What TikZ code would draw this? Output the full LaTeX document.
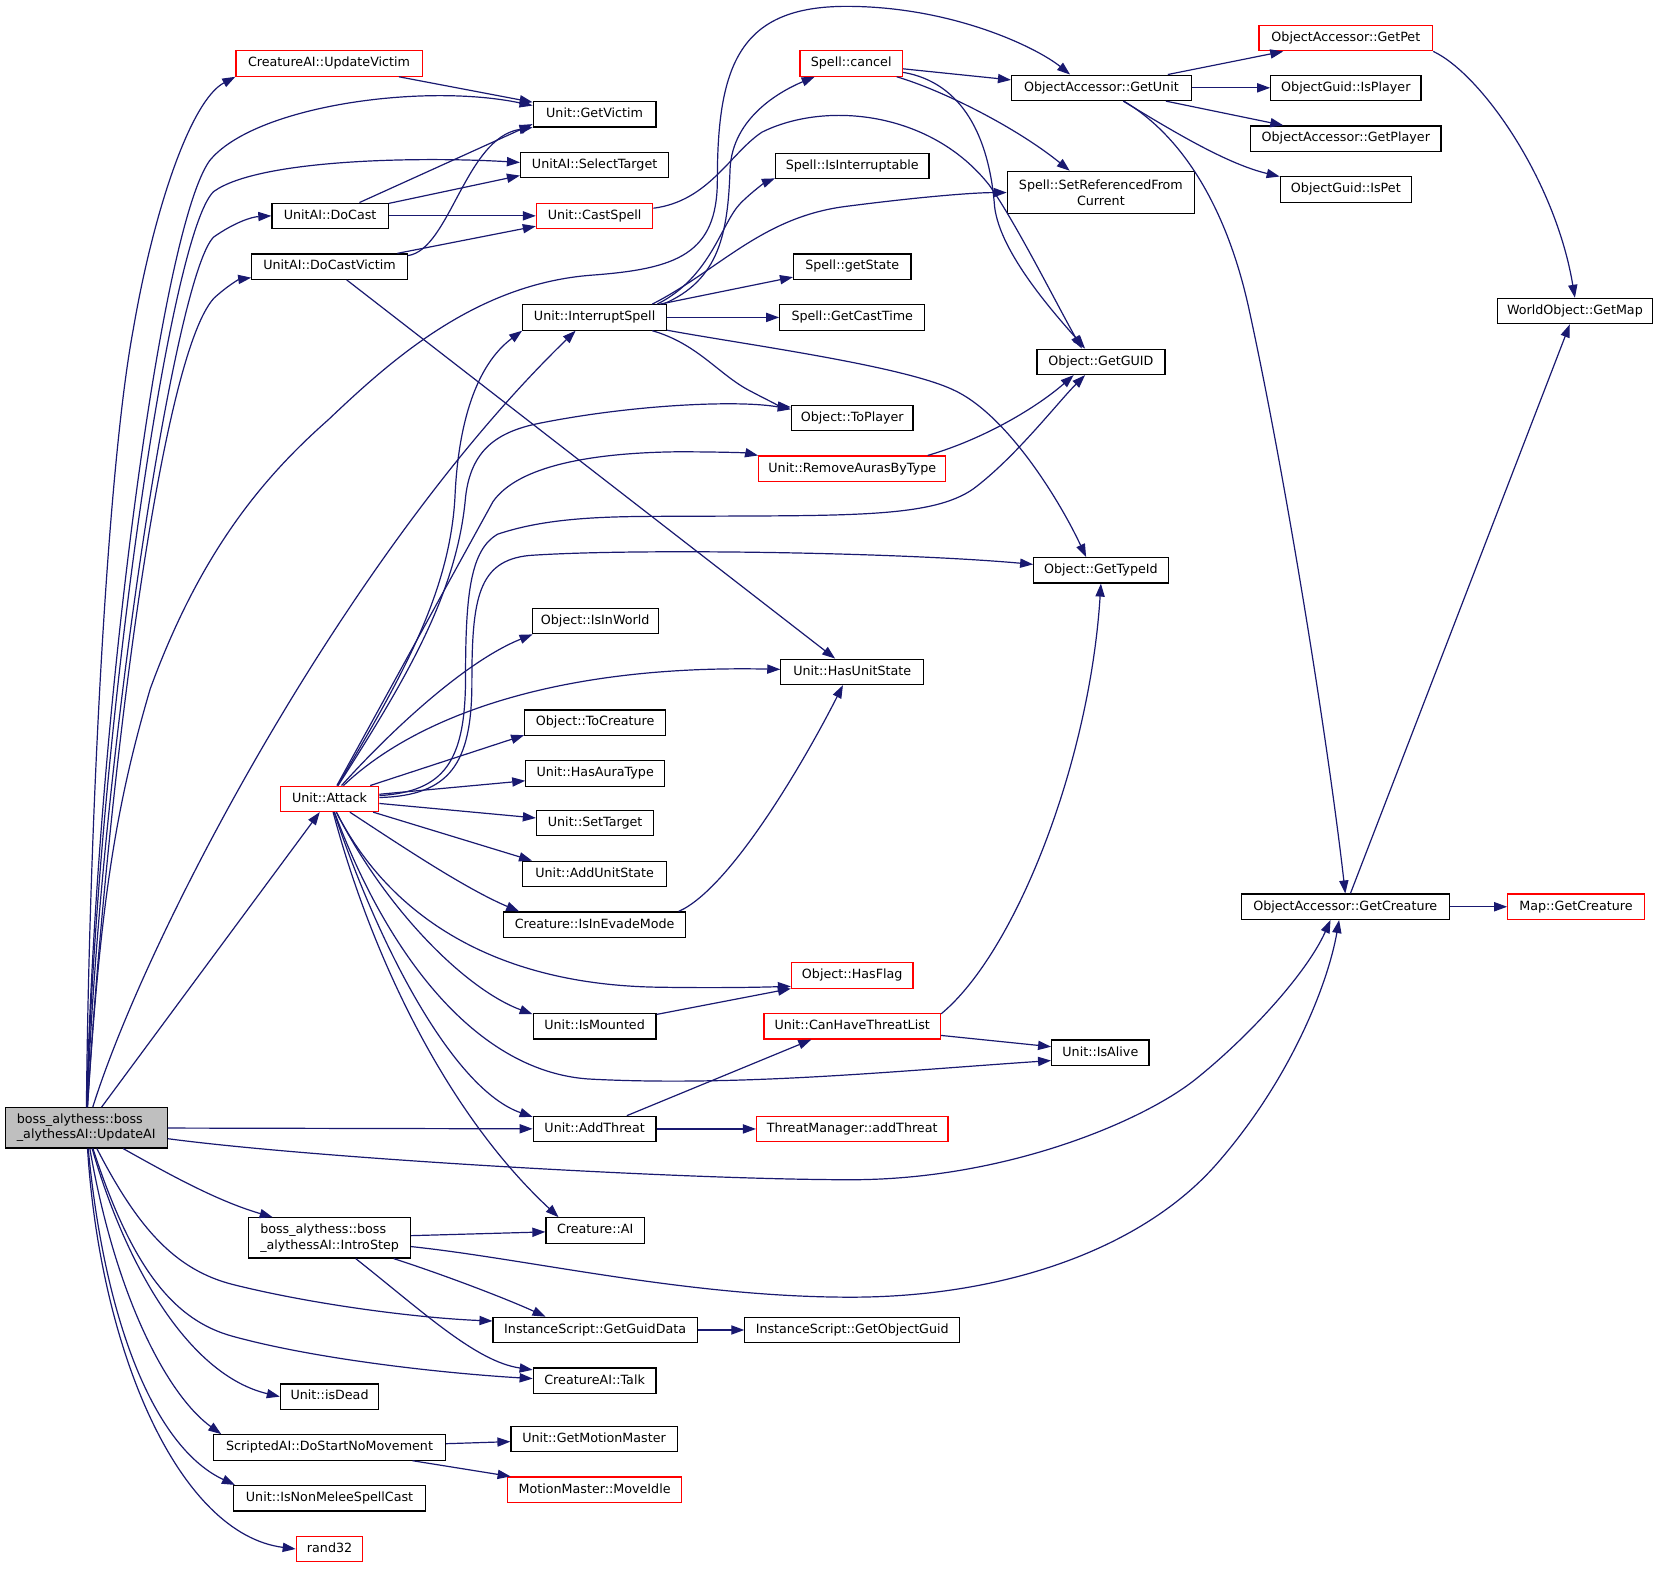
\documentclass[tikz,border=0pt]{standalone}
\usepackage{fontspec}
\setmainfont{DejaVu Sans}
\usepackage{xcolor}
\usetikzlibrary{arrows.meta}
\definecolor{callblue}{HTML}{191970}
\definecolor{rootgrey}{HTML}{BFBFBF}

\begin{document}
\begin{tikzpicture}[x=0.529pt,y=-0.529pt,
    >={Triangle[length=6.5pt,width=4.6pt]},
    fn/.style={draw=black,line width=0.6pt,fill=white,inner sep=0pt,
      minimum height=12.7pt,text height=4.6pt,text depth=1.3pt,
      font=\fontsize{6.35}{7.75}\selectfont},
    hot/.style={fn,draw=red},
    tall/.style={text height=,text depth=,minimum height=#1},
    root/.style={fn,fill=rootgrey,tall=20.1pt,align=left},
    call/.style={->,draw=callblue,line width=0.6pt}]

\path[use as bounding box,fill=white] (0,0) rectangle (1568,1483);

\node[root,minimum width=80.9pt] (updateAI) at (81.5,1066) {boss\_alythess::boss\\\_alythessAI::UpdateAI};
\node[hot,minimum width=93.1pt] (updVictim) at (311,60) {CreatureAI::UpdateVictim};
\node[fn,minimum width=61.4pt] (getVictim) at (562,108) {Unit::GetVictim};
\node[fn,minimum width=74.1pt] (selTarget) at (562,156) {UnitAI::SelectTarget};
\node[fn,minimum width=58.2pt] (doCast) at (312,204) {UnitAI::DoCast};
\node[hot,minimum width=58.2pt] (castSpell) at (562,204) {Unit::CastSpell};
\node[fn,minimum width=77.8pt] (doCastVictim) at (311.5,252) {UnitAI::DoCastVictim};
\node[fn,minimum width=71.9pt] (interrupt) at (562,300) {Unit::InterruptSpell};
\node[hot,minimum width=51.3pt] (cancel) at (804.5,60) {Spell::cancel};
\node[fn,minimum width=89.9pt] (getUnit) at (1041,83) {ObjectAccessor::GetUnit};
\node[hot,minimum width=86.8pt] (getPet) at (1272,36) {ObjectAccessor::GetPet};
\node[fn,minimum width=75.1pt] (isPlayer) at (1272,83) {ObjectGuid::IsPlayer};
\node[fn,minimum width=95.2pt] (getPlayer) at (1272,131) {ObjectAccessor::GetPlayer};
\node[fn,minimum width=65.6pt] (isPet) at (1272,179) {ObjectGuid::IsPet};
\node[fn,minimum width=76.7pt] (interruptable) at (805.5,157) {Spell::IsInterruptable};
\node[fn,tall=21.2pt,align=center,minimum width=93.6pt] (setRef) at (1040.5,182) {Spell::SetReferencedFrom\\Current};
\node[fn,minimum width=58.7pt] (getState) at (805.5,252) {Spell::getState};
\node[fn,minimum width=72.5pt] (castTime) at (805.5,300) {Spell::GetCastTime};
\node[fn,minimum width=77.8pt] (getMap) at (1488.5,294) {WorldObject::GetMap};
\node[fn,minimum width=64pt] (getGUID) at (1040.5,342) {Object::GetGUID};
\node[fn,minimum width=60.8pt] (toPlayer) at (805.5,395) {Object::ToPlayer};
\node[hot,minimum width=93.6pt] (removeAuras) at (805.5,443) {Unit::RemoveAurasByType};
\node[fn,minimum width=67.2pt] (getTypeId) at (1040.5,539) {Object::GetTypeId};
\node[fn,minimum width=63pt] (isInWorld) at (562.5,587) {Object::IsInWorld};
\node[fn,minimum width=71.4pt] (hasUnitState) at (805.5,635) {Unit::HasUnitState};
\node[fn,minimum width=70.4pt] (toCreature) at (562.5,683) {Object::ToCreature};
\node[fn,minimum width=69.3pt] (hasAuraType) at (562.5,731) {Unit::HasAuraType};
\node[hot,minimum width=49.2pt] (attack) at (311.5,755) {Unit::Attack};
\node[fn,minimum width=58.7pt] (setTarget) at (562.5,778) {Unit::SetTarget};
\node[fn,minimum width=71.9pt] (addUnitState) at (562,826) {Unit::AddUnitState};
\node[fn,minimum width=91pt] (evadeMode) at (562,874) {Creature::IsInEvadeMode};
\node[fn,minimum width=104.2pt] (getCreature) at (1271.5,857) {ObjectAccessor::GetCreature};
\node[hot,minimum width=68.2pt] (mapCreature) at (1489.5,857) {Map::GetCreature};
\node[hot,minimum width=60.8pt] (hasFlag) at (805.5,922) {Object::HasFlag};
\node[fn,minimum width=61.4pt] (isMounted) at (562,970) {Unit::IsMounted};
\node[hot,minimum width=88.3pt] (canThreat) at (805.5,970) {Unit::CanHaveThreatList};
\node[fn,minimum width=48.7pt] (isAlive) at (1040,995) {Unit::IsAlive};
\node[fn,minimum width=61.4pt] (addThreat) at (562,1067) {Unit::AddThreat};
\node[hot,minimum width=95.7pt] (tmAddThreat) at (805.5,1067) {ThreatManager::addThreat};
\node[fn,tall=20.1pt,align=left,minimum width=80.9pt] (introStep) at (311.5,1170) {boss\_alythess::boss\\\_alythessAI::IntroStep};
\node[fn,minimum width=49.2pt] (creatureAI) at (562.5,1163) {Creature::AI};
\node[fn,minimum width=102.1pt] (guidData) at (562.5,1257) {InstanceScript::GetGuidData};
\node[fn,minimum width=107.4pt] (objectGuid) at (805.5,1257) {InstanceScript::GetObjectGuid};
\node[fn,minimum width=61.4pt] (talk) at (562,1305) {CreatureAI::Talk};
\node[fn,minimum width=49.2pt] (isDead) at (311.5,1320) {Unit::isDead};
\node[fn,minimum width=115.9pt] (noMovement) at (311.5,1368) {ScriptedAI::DoStartNoMovement};
\node[fn,minimum width=83.1pt] (motionMaster) at (561.5,1360) {Unit::GetMotionMaster};
\node[hot,minimum width=86.8pt] (moveIdle) at (562,1408) {MotionMaster::MoveIdle};
\node[fn,minimum width=95.7pt] (nonMelee) at (311.5,1416) {Unit::IsNonMeleeSpellCast};
\node[hot,minimum width=33.3pt] (rand) at (311.5,1464) {rand32};

% straight calls
\foreach \a/\b in {updateAI/attack, updateAI/addThreat, updVictim/getVictim.169,
    doCast/getVictim.189, doCast/selTarget.188, doCast/castSpell,
    doCastVictim/castSpell.190, doCastVictim/hasUnitState, cancel/getUnit.175,
    getUnit/getPet.192, getUnit/isPlayer, getUnit/getPlayer.168,
    getCreature/getMap, getCreature/mapCreature, interrupt/getState.190,
    interrupt/castTime, attack/toCreature.190, attack/hasAuraType.186,
    attack/setTarget.175, attack/addUnitState.168, isMounted/hasFlag.192,
    canThreat/isAlive.173, addThreat/canThreat.198, addThreat/tmAddThreat,
    introStep/creatureAI, guidData/objectGuid, noMovement/motionMaster,
    noMovement/moveIdle.171}
  \draw[call] (\a) -- (\b);

% UpdateAI
\draw[call] (updateAI) .. controls (84,800) and (100,450) .. (126,311) .. controls (145,200) and (180,95) .. (updVictim.south west);
\draw[call] (updateAI) .. controls (90,700) and (150,220) .. (198,152) .. controls (240,100) and (400,78) .. (getVictim.172);
\draw[call] (updateAI) .. controls (92,700) and (160,220) .. (202,181) .. controls (245,150) and (400,148) .. (selTarget.178);
\draw[call] (updateAI) .. controls (95,720) and (165,260) .. (202,224) .. controls (222,210) and (238,205) .. (doCast.west);
\draw[call] (updateAI) .. controls (100,760) and (150,340) .. (202,282) .. controls (215,270) and (226,264) .. (doCastVictim.188);
\draw[call] (updateAI) .. controls (95,850) and (110,760) .. (142,651) .. controls (190,520) and (250,450) .. (310,397) .. controls (370,340) and (450,268) .. (560,260) .. controls (640,254) and (678,240) .. (678,170) .. controls (678,60) and (700,6) .. (800,6) .. controls (900,6) and (980,45) .. (getUnit.157);
\draw[call] (updateAI) .. controls (140,880) and (330,520) .. (interrupt.215);
\draw[call] (updateAI) .. controls (300,1095) and (650,1115) .. (804,1115) .. controls (950,1115) and (1080,1060) .. (1130,1020) .. controls (1180,980) and (1235,920) .. (getCreature.222);
\draw[call] (updateAI) .. controls (160,1110) and (205,1135) .. (introStep.160);
\draw[call] (updateAI) .. controls (130,1160) and (165,1200) .. (220,1214) .. controls (300,1234) and (400,1246) .. (guidData.175);
\draw[call] (updateAI) .. controls (125,1200) and (165,1248) .. (220,1263) .. controls (300,1285) and (420,1298) .. (talk.178);
\draw[call] (updateAI) .. controls (120,1200) and (180,1300) .. (isDead.west);
\draw[call] (updateAI) .. controls (110,1230) and (160,1320) .. (noMovement.173);
\draw[call] (updateAI) .. controls (100,1260) and (150,1370) .. (nonMelee.172);
\draw[call] (updateAI) .. controls (95,1280) and (170,1450) .. (rand.west);

\draw[call] (doCastVictim) .. controls (425,236) and (440,130) .. (getVictim.192);
\draw[call] (castSpell) .. controls (670,190) and (690,145) .. (720,125) .. controls (780,95) and (880,105) .. (935,175) .. controls (960,210) and (1000,290) .. (getGUID.145);
\draw[call] (cancel) .. controls (890,85) and (960,120) .. (setRef.145);
\draw[call] (cancel) .. controls (910,78) and (935,130) .. (940,195) .. controls (945,240) and (1000,300) .. (getGUID.140);
\draw[call] (getUnit) .. controls (1110,125) and (1160,155) .. (isPet.169);
\draw[call] (getUnit) .. controls (1120,130) and (1160,200) .. (1180,290) .. controls (1215,450) and (1255,700) .. (getCreature.north);
\draw[call] (getPet.south east) .. controls (1400,70) and (1470,170) .. (getMap.north);

% InterruptSpell
\draw[call] (interrupt.11) .. controls (680,265) and (688,220) .. (690,160) .. controls (692,110) and (740,85) .. (cancel.200);
\draw[call] (interrupt.12) .. controls (672,262) and (682,210) .. (700,192) .. controls (712,180) and (724,172) .. (interruptable.189);
\draw[call] (interrupt.13) .. controls (680,255) and (720,205) .. (800,195) .. controls (870,186) and (920,182) .. (setRef.west);
\draw[call] (interrupt.-13) .. controls (660,325) and (680,355) .. (710,370) .. controls (725,378) and (738,384) .. (toPlayer.170);
\draw[call] (interrupt.-10) .. controls (700,325) and (850,345) .. (900,368) .. controls (950,390) and (1000,470) .. (getTypeId.138);

% Attack
\draw[call] (attack) .. controls (380,640) and (425,560) .. (430,470) .. controls (433,400) and (450,345) .. (interrupt.south west);
\draw[call] (attack) .. controls (385,640) and (432,560) .. (440,470) .. controls (445,425) and (470,408) .. (510,400) .. controls (600,382) and (700,378) .. (toPlayer.172);
\draw[call] (attack) -- (466,474) .. controls (490,440) and (560,428) .. (640,427) .. controls (680,427) and (705,428) .. (removeAuras.172);
\draw[call] (attack) .. controls (420,748) and (440,720) .. (440,640) .. controls (440,560) and (445,520) .. (470,505) .. controls (520,488) and (580,488) .. (640,488) .. controls (800,487) and (880,490) .. (920,462) .. controls (960,432) and (1000,380) .. (getGUID.220);
\draw[call] (attack) .. controls (425,752) and (446,722) .. (446,645) .. controls (446,565) and (452,530) .. (500,525) .. controls (600,518) and (850,522) .. (getTypeId.175);
\draw[call] (attack) .. controls (370,690) and (440,625) .. (isInWorld.192);
\draw[call] (attack) .. controls (390,680) and (520,628) .. (hasUnitState.178);
\draw[call] (attack) .. controls (380,800) and (440,840) .. (evadeMode.170);
\draw[call] (attack) .. controls (365,860) and (460,930) .. (620,933) .. controls (680,934) and (720,933) .. (hasFlag.190);
\draw[call] (attack) .. controls (365,860) and (440,935) .. (isMounted.169);
\draw[call] (attack) .. controls (365,900) and (450,1015) .. (560,1020) .. controls (700,1027) and (850,1012) .. (isAlive.189);
\draw[call] (attack) .. controls (360,900) and (430,1030) .. (addThreat.169);
\draw[call] (attack) .. controls (350,900) and (420,1050) .. (creatureAI.160);

\draw[call] (evadeMode.9) .. controls (690,840) and (760,720) .. (hasUnitState.235);
\draw[call] (canThreat.8) .. controls (960,900) and (1030,720) .. (getTypeId.south);
\draw[call] (removeAuras.10) .. controls (930,415) and (980,385) .. (getGUID.206);

% IntroStep
\draw[call] (introStep) .. controls (500,1190) and (650,1226) .. (804,1226) .. controls (950,1226) and (1080,1180) .. (1150,1100) .. controls (1220,1020) and (1255,930) .. (getCreature.245);
\draw[call] (introStep) .. controls (420,1205) and (480,1228) .. (guidData.165);
\draw[call] (introStep) .. controls (400,1240) and (450,1287) .. (talk.170);

\end{tikzpicture}
\end{document}
